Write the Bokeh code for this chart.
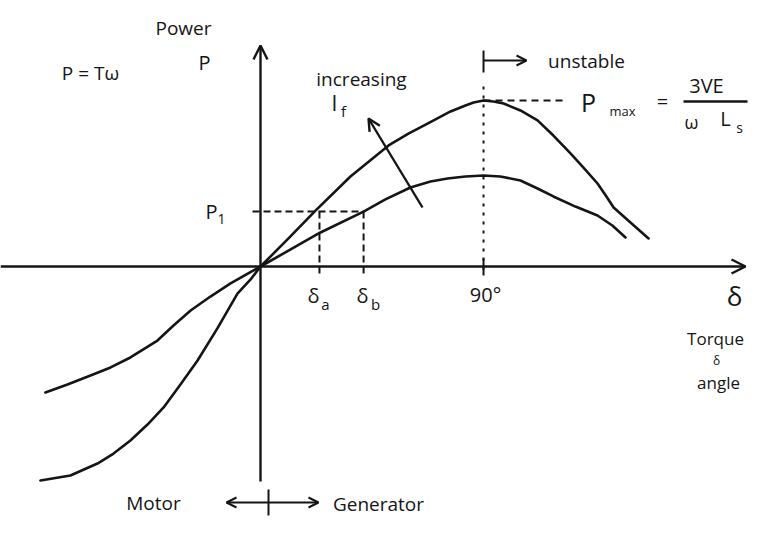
from bokeh.plotting import figure
from bokeh.models import Arrow, OpenHead, Label
from bokeh.embed import file_html
from bokeh.resources import INLINE

# ---- data (delta in degrees, P normalised to Pmax of the upper curve) ----
delta_upper = [-88.8, -76.7, -65.8, -59.3, -52.5, -45.6, -39.1, -32.3, -25.4, -17.4, -9.3, -4.0, 0.0,
               11.3, 22.2, 36.3, 51.7, 59.7, 67.4, 76.7, 82.7, 86.0, 90.0,
               94.0, 98.1, 104.9, 111.8, 118.2, 125.1, 130.7, 136.0, 139.6, 142.5, 149.3, 156.6]
p_upper = [-1.289, -1.259, -1.187, -1.127, -1.048, -0.952, -0.849, -0.711, -0.566, -0.373, -0.163, -0.078, 0.0,
           0.169, 0.337, 0.542, 0.729, 0.801, 0.861, 0.934, 0.970, 0.988, 1.0,
           0.994, 0.982, 0.940, 0.880, 0.789, 0.681, 0.590, 0.500, 0.422, 0.355, 0.265, 0.169]

delta_lower = [-86.8, -77.9, -68.6, -60.5, -52.5, -41.6, -35.1, -28.2, -20.2, -12.1, 0.0,
               24.2, 41.6, 50.4, 60.5, 68.6, 75.5, 82.7, 90.0,
               96.8, 104.9, 111.8, 118.2, 127.1, 136.0, 142.0, 147.3]
p_lower = [-0.759, -0.711, -0.657, -0.608, -0.548, -0.446, -0.355, -0.265, -0.181, -0.102, 0.0,
           0.205, 0.331, 0.404, 0.476, 0.512, 0.530, 0.542, 0.548,
           0.542, 0.518, 0.470, 0.422, 0.361, 0.307, 0.247, 0.175]

P1 = 0.331
delta_a = 23.8
delta_b = 41.6
delta_max = 90.0
P_max = 1.0

# ---- geometry helpers (picture pixel -> data) ----
SX, SY, OX, OY = 2.478, 166.0, 260.0, 266.0
def X(px):
    return (px - OX) / SX
def Y(py):
    return (OY - py) / SY

W, H = 749, 518
p = figure(width=W, height=H, x_range=(X(0), X(W)), y_range=(Y(H), Y(0)),
           output_backend="svg", toolbar_location=None, min_border=0)
p.axis.visible = False
p.grid.visible = False
p.outline_line_color = None
p.background_fill_color = "white"

INK = "#151515"
FONT = "Open Sans"

# curves
p.line(delta_upper, p_upper, line_color=INK, line_width=2.6, line_cap="round", line_join="round")
p.line(delta_lower, p_lower, line_color=INK, line_width=2.6, line_cap="round", line_join="round")

# axes with arrowheads
p.add_layout(Arrow(x_start=X(0), y_start=0, x_end=X(745), y_end=0, line_color=INK, line_width=2.4,
                   end=OpenHead(size=14, line_width=2.4, line_color=INK)))
p.add_layout(Arrow(x_start=0, y_start=Y(481), x_end=0, y_end=Y(45), line_color=INK, line_width=2.4,
                   end=OpenHead(size=14, line_width=2.4, line_color=INK)))

# dashed guides
p.line([X(252), delta_b], [P1, P1], line_color=INK, line_width=2, line_dash="7 4")
p.line([delta_a, delta_a], [P1, Y(276)], line_color=INK, line_width=2, line_dash="7 4")
p.line([delta_b, delta_b], [P1, Y(276)], line_color=INK, line_width=2, line_dash="7 4")
p.line([delta_max, delta_max], [Y(86), Y(274)], line_color=INK, line_width=2, line_dash="3 6")
p.line([delta_max, X(565)], [P_max, P_max], line_color=INK, line_width=2, line_dash="7 5")
p.line([delta_max, delta_max], [Y(258), Y(275)], line_color=INK, line_width=2)

# unstable marker
p.line([delta_max, delta_max], [Y(50), Y(72)], line_color=INK, line_width=2)
p.add_layout(Arrow(x_start=delta_max, y_start=Y(60), x_end=X(526), y_end=Y(60), line_color=INK, line_width=2,
                   end=OpenHead(size=10, line_width=2, line_color=INK)))

# increasing If arrow
p.add_layout(Arrow(x_start=X(422), y_start=Y(207), x_end=X(368), y_end=Y(118), line_color=INK, line_width=2.4,
                   end=OpenHead(size=12, line_width=2.4, line_color=INK)))

# motor / generator arrows
GY = 502
p.line([X(268), X(268)], [Y(GY - 13), Y(GY + 13)], line_color=INK, line_width=2)
p.add_layout(Arrow(x_start=X(268), y_start=Y(GY), x_end=X(226), y_end=Y(GY), line_color=INK, line_width=2,
                   end=OpenHead(size=10, line_width=2, line_color=INK)))
p.add_layout(Arrow(x_start=X(268), y_start=Y(GY), x_end=X(318), y_end=Y(GY), line_color=INK, line_width=2,
                   end=OpenHead(size=10, line_width=2, line_color=INK)))

# Pmax fraction bar
p.line([X(683), X(747)], [Y(101), Y(101)], line_color=INK, line_width=2.4)

def lab(px, py, text, size=20, align="center", style="normal"):
    p.add_layout(Label(x=X(px), y=Y(py), text=text, text_font=FONT, text_font_size=f"{size}px",
                       text_color=INK, text_align=align, text_baseline="middle", text_font_style=style))

lab(90, 72, "P = Tω", 19)
lab(183, 27, "Power", 19)
lab(204, 62, "P", 20)
lab(361, 78, "increasing", 19)
lab(334, 102, "I", 21)
lab(343, 110, "f", 15)
lab(586, 60, "unstable", 19)
lab(588, 101, "P", 25)
lab(622, 110, "max", 13)
lab(662, 101, "=", 20)
lab(706, 85, "3VE", 20)
lab(691, 121, "ω", 18)
lab(725, 118, "L", 20)
lab(739, 127, "s", 14)
lab(211, 211, "P", 20)
lab(221, 218, "1", 14)
lab(313, 295, "δ", 20)
lab(325, 303, "a", 15)
lab(362, 295, "δ", 20)
lab(375, 303, "b", 15)
lab(485, 294, "90°", 20)
lab(734, 295, "δ", 26)
lab(715, 338, "Torque", 17)
lab(716, 360, "δ", 12)
lab(718, 382, "angle", 17)
lab(153, GY, "Motor", 19)
lab(378, GY + 1, "Generator", 19)

open("out.html", "w").write(file_html(p, INLINE))
